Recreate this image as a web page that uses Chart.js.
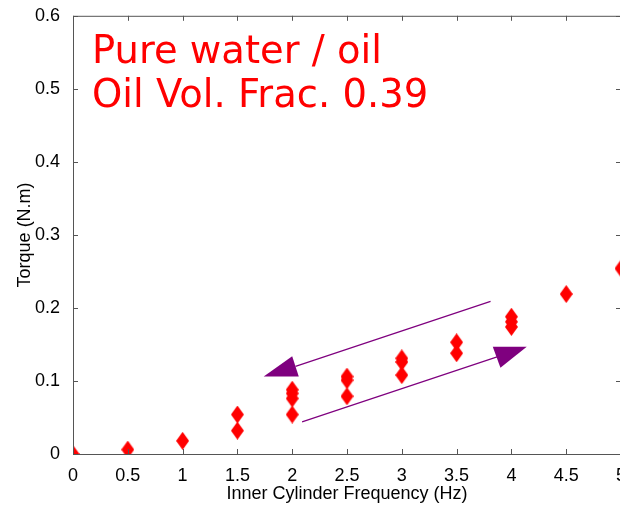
<!DOCTYPE html>
<html>
<head>
<meta charset="utf-8">
<script src="https://cdn.jsdelivr.net/npm/chart.js@4/dist/chart.umd.min.js"></script>
<style>
  html, body { margin: 0; padding: 0; background: #fff; overflow: hidden; }
  #chart { display: block; }
</style>
</head>
<body>
<canvas id="chart" width="630" height="505"></canvas>
<script>
// measured torque vs inner cylinder frequency
const freq = [0, 0.5, 1, 1.5, 1.5, 2, 2, 2, 2, 2.5, 2.5, 2.5, 3, 3, 3, 3.5, 3.5, 4, 4, 4, 4.5, 5]
const torque = [0, 0.006, 0.018, 0.054, 0.032, 0.088, 0.083, 0.076, 0.054, 0.106, 0.101, 0.079,
  0.131, 0.126, 0.108, 0.153, 0.138, 0.188, 0.181, 0.174, 0.219, 0.254]

const xTicks = [0, 0.5, 1, 1.5, 2, 2.5, 3, 3.5, 4, 4.5, 5]
const yTicks = [0, 0.1, 0.2, 0.3, 0.4, 0.5, 0.6]

// arrows (data coordinates): decreasing branch and increasing branch
const backLineX = [3.81, 2.03]
const backLineY = [0.209, 0.120]
const backHeadX = [1.74, 2.00, 2.06]
const backHeadY = [0.106, 0.134, 0.106]
const fwdLineX = [2.09, 3.87]
const fwdLineY = [0.044, 0.133]
const fwdHeadX = [4.14, 3.83, 3.90]
const fwdHeadY = [0.147, 0.147, 0.118]

const noteLines = ['Pure water / oil', 'Oil Vol. Frac. 0.39']

const RED = '#ff0000'
const PURPLE = '#7f007f'
const AXIS = '#555555'

// matlab-like diamond marker, taller than wide
const diamond = document.createElement('canvas')
diamond.width = 13
diamond.height = 18
{
  const c = diamond.getContext('2d')
  c.fillStyle = RED
  c.beginPath()
  c.moveTo(6.5, 0)
  c.lineTo(13, 9)
  c.lineTo(6.5, 18)
  c.lineTo(0, 9)
  c.closePath()
  c.fill()
}

const boxPlugin = {
  id: 'box',
  afterDatasetsDraw(chart) {
    const { ctx, chartArea: a, scales: { x, y } } = chart
    ctx.save()
    ctx.strokeStyle = AXIS
    ctx.lineWidth = 1
    ctx.strokeRect(a.left + 0.5, a.top + 0.5, a.right - a.left, a.bottom - a.top)
    ctx.beginPath()
    xTicks.forEach(v => {
      const px = Math.round(x.getPixelForValue(v)) + 0.5
      ctx.moveTo(px, a.bottom); ctx.lineTo(px, a.bottom - 5)
      ctx.moveTo(px, a.top); ctx.lineTo(px, a.top + 5)
    })
    yTicks.forEach(v => {
      const py = Math.round(y.getPixelForValue(v)) + 0.5
      ctx.moveTo(a.left, py); ctx.lineTo(a.left + 5, py)
      ctx.moveTo(a.right, py); ctx.lineTo(a.right - 5, py)
    })
    ctx.stroke()

    // arrows
    const arrow = (lx, ly, hx, hy) => {
      ctx.strokeStyle = PURPLE
      ctx.fillStyle = PURPLE
      ctx.lineWidth = 1.2
      ctx.beginPath()
      ctx.moveTo(x.getPixelForValue(lx[0]), y.getPixelForValue(ly[0]))
      ctx.lineTo(x.getPixelForValue(lx[1]), y.getPixelForValue(ly[1]))
      ctx.stroke()
      ctx.beginPath()
      hx.forEach((v, i) => {
        const px = x.getPixelForValue(v)
        const py = y.getPixelForValue(hy[i])
        if (i === 0) ctx.moveTo(px, py); else ctx.lineTo(px, py)
      })
      ctx.closePath()
      ctx.fill()
    }
    arrow(backLineX, backLineY, backHeadX, backHeadY)
    arrow(fwdLineX, fwdLineY, fwdHeadX, fwdHeadY)

    // annotation text
    ctx.fillStyle = RED
    ctx.font = '38.5px "DejaVu Sans"'
    ctx.textBaseline = 'alphabetic'
    ctx.textAlign = 'left'
    noteLines.forEach((t, i) => {
      ctx.fillText(t, a.left + 19, a.top + 47 + i * 44)
    })
    ctx.restore()
  },
}

const tickFont = { family: '"Liberation Sans", Arial, sans-serif', size: 18 }
const fmt = (v) => String(v)

const ctx = document.getElementById('chart').getContext('2d')

/* eslint-disable no-new */
new Chart(ctx, {
  type: 'scatter',
  data: {
    datasets: [{
      data: freq.map((f, i) => ({ x: f, y: torque[i] })),
      pointStyle: diamond,
      pointRadius: 8,
      backgroundColor: RED,
      borderColor: RED,
    }],
  },
  options: {
    responsive: false,
    animation: false,
    layout: { padding: { top: 15, right: 0, left: 0, bottom: 0 } },
    plugins: {
      legend: { display: false },
      tooltip: { enabled: false },
    },
    scales: {
      x: {
        type: 'linear',
        min: 0,
        max: 5,
        afterBuildTicks: (s) => { s.ticks = xTicks.map(v => ({ value: v })) },
        afterFit: (s) => { s.height = 51 },
        grid: { display: false },
        border: { display: false },
        ticks: { color: '#000', font: tickFont, padding: 3, maxRotation: 0, callback: fmt },
        title: {
          display: true,
          text: 'Inner Cylinder Frequency (Hz)',
          color: '#000',
          font: tickFont,
          padding: { top: 0, bottom: 0 },
        },
      },
      y: {
        type: 'linear',
        min: 0,
        max: 0.6,
        afterBuildTicks: (s) => { s.ticks = yTicks.map(v => ({ value: v })) },
        afterFit: (s) => { s.width = 73 },
        grid: { display: false },
        border: { display: false },
        ticks: { color: '#000', font: tickFont, padding: 5, callback: fmt },
        title: {
          display: true,
          text: 'Torque (N.m)',
          color: '#000',
          font: tickFont,
          padding: { top: 14, bottom: 0 },
        },
      },
    },
  },
  plugins: [boxPlugin],
})
</script>
</body>
</html>
